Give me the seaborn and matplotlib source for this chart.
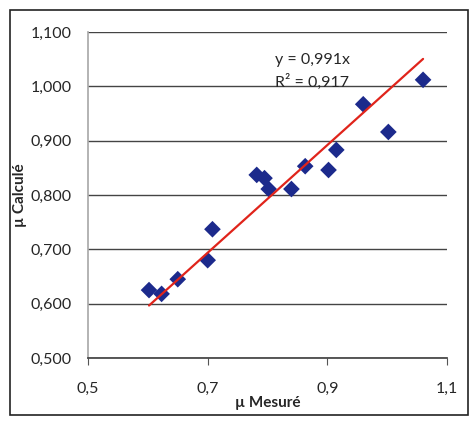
import matplotlib.pyplot as plt
import matplotlib.ticker as mticker
import seaborn as sns
import numpy as np
import pandas as pd

# measured vs computed friction coefficient
mu_mesure = [0.602, 0.623, 0.650, 0.700, 0.708, 0.782, 0.795, 0.802,
             0.840, 0.863, 0.902, 0.915, 0.960, 1.002, 1.060]
mu_calcule = [0.625, 0.618, 0.645, 0.680, 0.737, 0.837, 0.831, 0.811,
              0.811, 0.853, 0.846, 0.883, 0.967, 0.916, 1.012]
slope = 0.991
r2 = 0.917
x_ticks = [0.5, 0.7, 0.9, 1.1]
y_ticks = [0.5, 0.6, 0.7, 0.8, 0.9, 1.0, 1.1]

df = pd.DataFrame({'mesure': mu_mesure, 'calcule': mu_calcule})
fit_x = np.array([min(mu_mesure), max(mu_mesure)])
df_fit = pd.DataFrame({'x': fit_x, 'y': slope * fit_x})

sns.set_theme(style="white")
plt.rcParams['font.family'] = ['Lato', 'DejaVu Sans']

fig = plt.figure(figsize=(4.75, 4.21), dpi=100)
ax = fig.add_axes([88 / 475, 1 - 358 / 421, (447 - 88) / 475, (358 - 32) / 421])

sns.scatterplot(data=df, x='mesure', y='calcule', marker='D', s=72,
                color='#1c2a8c', edgecolor='none', ax=ax, zorder=3)
sns.lineplot(data=df_fit, x='x', y='y', color='#e0241b', linewidth=1.6, ax=ax, zorder=4)

ax.set_xlim(0.5, 1.1)
ax.set_ylim(0.5, 1.1)
ax.set_xticks(x_ticks)
ax.set_yticks(y_ticks)
ax.xaxis.set_major_formatter(mticker.FuncFormatter(lambda v, p: f"{v:.1f}".replace('.', ',')))
ax.yaxis.set_major_formatter(mticker.FuncFormatter(lambda v, p: f"{v:.3f}".replace('.', ',')))
ax.yaxis.grid(True, color='#444444', linewidth=1.0)
ax.set_axisbelow(True)

for side in ['top', 'right']:
    ax.spines[side].set_visible(False)
ax.spines['left'].set_color('#aaaaaa')
ax.spines['bottom'].set_color('#444444')
ax.tick_params(axis='x', direction='out', length=5, width=0.8, color='#555555',
               bottom=True, labelsize=11.5, pad=12)
ax.tick_params(axis='y', length=0, labelsize=11.5, pad=12)

ax.set_xlabel('µ Mesuré', fontweight='bold', fontsize=11, labelpad=0)
ax.set_ylabel('µ Calculé', fontweight='bold', fontsize=11, labelpad=2)

ax.text(0.812, 1.048, f"y = {slope:.3f}x".replace('.', ','), fontsize=11.5, va='center')
ax.text(0.812, 1.008, f"R² = {r2:.3f}".replace('.', ','), fontsize=11.5, va='center')

# outer frame around the chart
fig.patches.append(plt.Rectangle((10 / 475, 6 / 421), 458 / 475, 405 / 421,
                                 transform=fig.transFigure, fill=False,
                                 edgecolor='#222222', linewidth=1.2))

fig.savefig('out.png', dpi=100)
